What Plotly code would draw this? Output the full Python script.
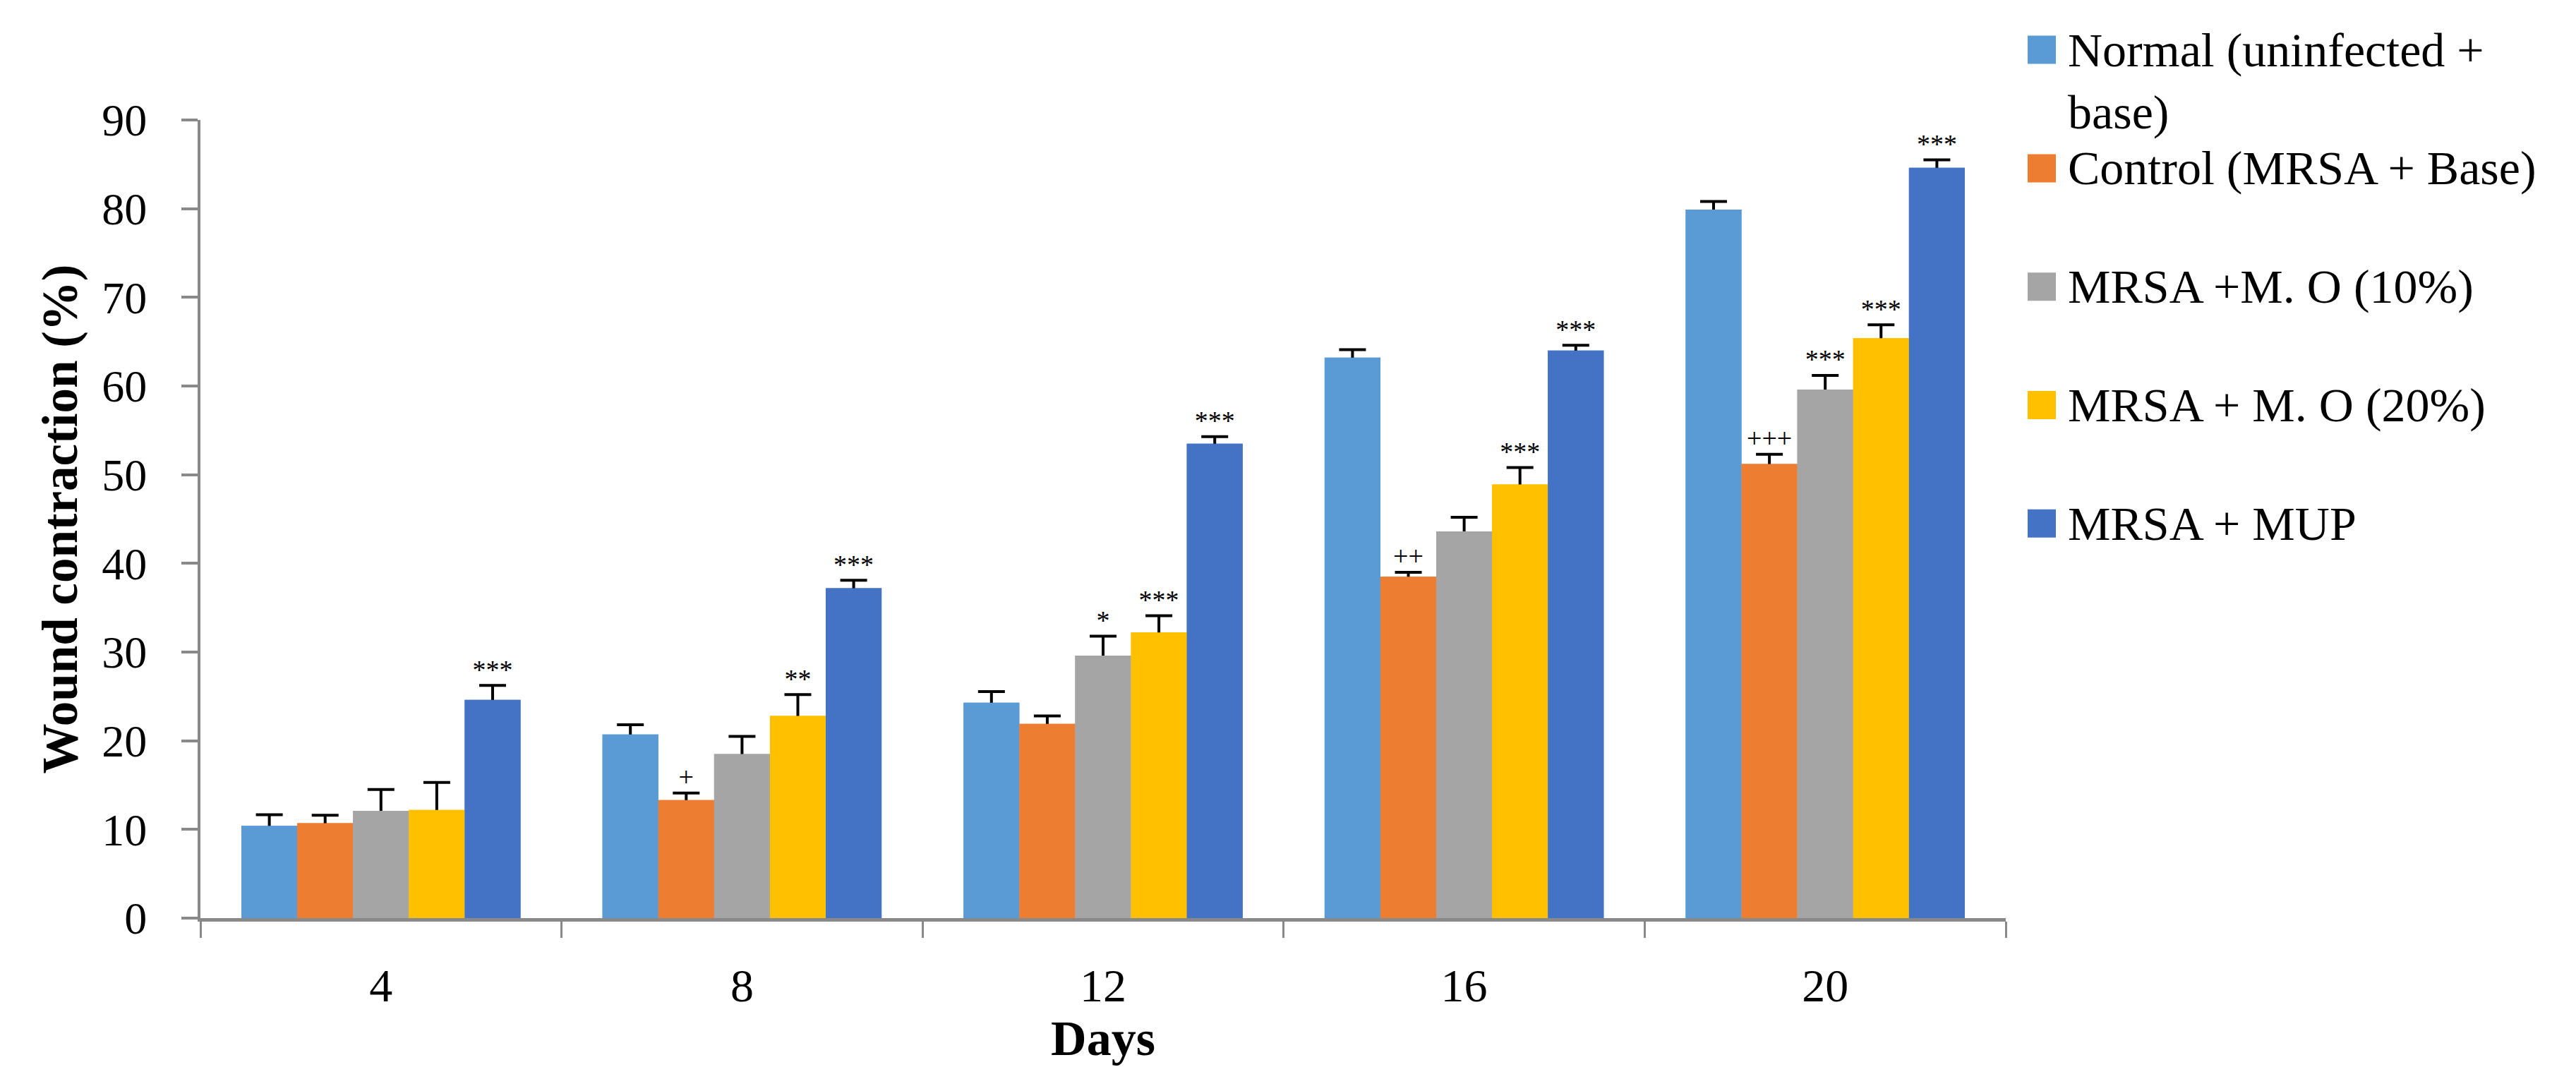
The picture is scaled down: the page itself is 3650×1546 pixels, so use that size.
import plotly.graph_objects as go

# ---------------- data ----------------
days = ["4", "8", "12", "16", "20"]
series_names = ["Normal (uninfected + base)", "Control (MRSA + Base)",
                "MRSA +M. O (10%)", "MRSA + M. O (20%)", "MRSA + MUP"]
legend_labels = ["Normal (uninfected +<br>base)", "Control (MRSA + Base)",
                 "MRSA +M. O (10%)", "MRSA + M. O (20%)", "MRSA + MUP"]

normal = [10.4, 20.7, 24.3, 63.2, 79.9]
normal_err = [1.25, 1.1, 1.25, 0.9, 0.9]
control = [10.7, 13.3, 21.9, 38.5, 51.2]
control_err = [0.9, 0.8, 0.9, 0.5, 1.1]
mo10 = [12.1, 18.5, 29.6, 43.6, 59.6]
mo10_err = [2.4, 2.0, 2.2, 1.6, 1.6]
mo20 = [12.2, 22.8, 32.2, 48.9, 65.4]
mo20_err = [3.1, 2.4, 1.9, 1.9, 1.5]
mup = [24.6, 37.2, 53.5, 64.0, 84.6]
mup_err = [1.65, 0.9, 0.8, 0.6, 0.9]

normal_sig = ["", "", "", "", ""]
control_sig = ["", "+", "", "++", "+++"]
mo10_sig = ["", "", "*", "", "***"]
mo20_sig = ["", "**", "***", "***", "***"]
mup_sig = ["***", "***", "***", "***", "***"]

values = [normal, control, mo10, mo20, mup]
errors = [normal_err, control_err, mo10_err, mo20_err, mup_err]
sigs = [normal_sig, control_sig, mo10_sig, mo20_sig, mup_sig]
colors = ["#5B9BD5", "#ED7D31", "#A5A5A5", "#FFC000", "#4472C4"]

# ---------------- layout constants ----------------
# the page body has an 8px margin, so the figure is offset by 8px
OFF = 8
W, H = 3634, 1530
PW, PH = 2558, 1131          # plot area size
L, T = 284 - OFF, 170 - OFF
R, B = W - L - PW, H - T - PH
FONT = "Liberation Serif"
AXIS_GREY = "#898989"
GAP = 0.227

def px_x(p):  # p: pixel x in the 3650-wide page
    return (p - OFF - L) / PW

def px_y(p):  # p: pixel y in the 1546-high page
    return (T + PH - (p - OFF)) / PH

fig = go.Figure()

# bars with error bars
for i, (name, v, e, c) in enumerate(zip(series_names, values, errors, colors)):
    fig.add_trace(go.Bar(
        x=days, y=v, name=name, marker=dict(color=c, line=dict(width=0)),
        offsetgroup=f"g{i}",
        error_y=dict(type="data", array=e, symmetric=True, color="black",
                     thickness=4, width=19),
        showlegend=False, hoverinfo="skip"))

# cover copies (hide the lower half of each error bar, Excel "plus" style)
for i, (name, v, c) in enumerate(zip(series_names, values, colors)):
    fig.add_trace(go.Bar(
        x=days, y=v, name=name, marker=dict(color=c, line=dict(width=0)),
        offsetgroup=f"g{i}", showlegend=False, hoverinfo="skip"))

# significance marks
for i, (v, e, s) in enumerate(zip(values, errors, sigs)):
    fig.add_trace(go.Scatter(
        x=days, y=[a + b for a, b in zip(v, e)], mode="text", text=s,
        textposition="top center",
        textfont=dict(family=FONT, size=38, color="black"),
        offsetgroup=f"g{i}", showlegend=False, hoverinfo="skip",
        cliponaxis=False))

# custom legend (large square swatches)
first_c, pitch = 70.6, 167.8
shapes, annotations = [], []
for i, (lab, c) in enumerate(zip(legend_labels, colors)):
    cy = first_c + i * pitch
    shapes.append(dict(type="rect", xref="paper", yref="paper",
                       x0=px_x(2873), x1=px_x(2913),
                       y0=px_y(cy + 20), y1=px_y(cy - 20),
                       fillcolor=c, line=dict(width=0)))
    nlines = lab.count("<br>") + 1
    ty = cy + (nlines - 1) * 88 / 2
    annotations.append(dict(text=lab, xref="paper", yref="paper",
                            x=px_x(2928), y=px_y(ty), xanchor="left",
                            yanchor="middle", align="left", showarrow=False,
                            font=dict(family=FONT, size=68, color="black")))

fig.update_layout(
    width=W, height=H, autosize=False,
    margin=dict(l=L, r=R, t=T, b=B, pad=0),
    template="none",
    paper_bgcolor="white", plot_bgcolor="white",
    barmode="group", bargap=GAP, bargroupgap=0,
    scattermode="group", scattergap=GAP,
    showlegend=False,
    shapes=shapes, annotations=annotations,
    font=dict(family=FONT, color="black"),
)

fig.update_xaxes(
    type="category", showgrid=False, zeroline=False,
    showline=True, linecolor=AXIS_GREY, linewidth=5,
    ticks="outside", tickson="boundaries", ticklen=23, tickwidth=3,
    tickcolor=AXIS_GREY, ticklabelstandoff=34,
    tickfont=dict(family=FONT, size=66, color="black"),
    title=dict(text="Days", standoff=14,
               font=dict(family=FONT, size=70, color="black", weight="bold")),
    automargin=False,
)
fig.update_yaxes(
    range=[0, 90], dtick=10, showgrid=False, zeroline=False,
    showline=True, linecolor=AXIS_GREY, linewidth=4,
    ticks="outside", ticklen=23, tickwidth=4, tickcolor=AXIS_GREY,
    ticklabelstandoff=36,
    tickfont=dict(family=FONT, size=64, color="black"),
    title=dict(text="Wound contraction (%)", standoff=12,
               font=dict(family=FONT, size=71, color="black", weight="bold")),
    automargin=False,
)

fig.write_html("out.html")
